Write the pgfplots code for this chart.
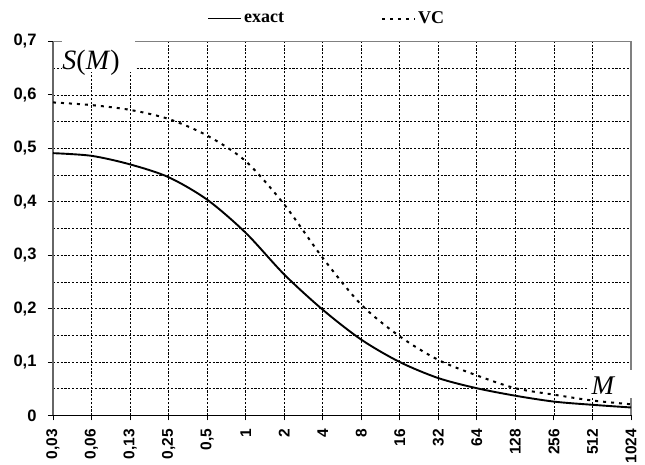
\documentclass[border=0pt]{standalone}
\usepackage{fontspec}
\setmainfont{Liberation Serif}
\newfontfamily\arialf{Liberation Sans}
\usepackage{pgfplots}
\pgfplotsset{compat=1.18}
\begin{document}
\begin{tikzpicture}
\begin{axis}[
  at={(0,0)}, anchor=south west,
  scale only axis, width=578pt, height=374pt,
  xmin=0, xmax=15, ymin=0, ymax=0.7,
  axis x line*=bottom, axis y line*=left,
  x axis line style={black, line width=1.1pt, -},
  y axis line style={gray!80!black, line width=1.2pt, -},
  xtick={0,1,2,3,4,5,6,7,8,9,10,11,12,13,14,15},
  xticklabels={{0,03},{0,06},{0,13},{0,25},{0,5},1,2,4,8,16,32,64,128,256,512,1024},
  ytick={0,0.1,0.2,0.3,0.4,0.5,0.6,0.7},
  minor ytick={0.05,0.15,0.25,0.35,0.45,0.55,0.65},
  grid=both,
  major grid style={black, line width=0.8pt, dash pattern=on 2.2pt off 1.6pt},
  minor grid style={black, line width=0.8pt, dash pattern=on 2.2pt off 1.6pt},
  tick style={black, line width=0.9pt},
  major tick length=5pt, minor tick length=0pt,
  tick align=outside,
  yticklabel style={/pgf/number format/.cd, use comma, fixed, precision=1, assume math mode=true,
    /tikz/font=\arialf\bfseries\fontsize{16.5}{18}\selectfont},
  xticklabel style={rotate=90, anchor=east, font=\arialf\bfseries\fontsize{15.5}{17}\selectfont},
  xticklabel shift=5pt,
  yticklabel shift=8pt,
  clip=false,
  legend style={at={(rel axis cs:0.2664,1.0614)}, anchor=west, draw=none, fill=none, inner sep=0pt,
    font=\bfseries\fontsize{18}{20}\selectfont,
    /tikz/every even column/.append style={column sep=95pt}},
  legend columns=2,
  legend image code/.code={\draw[#1] (0pt,0pt) -- (33pt,0pt);},
]
\draw[gray, line width=1.1pt] (rel axis cs:0,1) -- (rel axis cs:1,1) -- (rel axis cs:1,0);
\fill[white] (axis cs:0.234,0.643) rectangle (axis cs:2.13,0.715);
\fill[white] (axis cs:13.9,0.0328) rectangle (axis cs:15.1,0.0856);
\node[anchor=base west, inner sep=0pt, font=\fontsize{28}{30}\selectfont] at (axis cs:0.24,0.648) {\textit{S}(\textit{M})};
\node[anchor=base west, inner sep=0pt, font=\itshape\fontsize{27}{29}\selectfont] at (axis cs:13.97,0.0385) {M};
\addplot[black, line width=1.9pt, smooth] coordinates {
(0,0.491)(1,0.486)(2,0.470)(3,0.446)(4,0.404)(5,0.342)(6,0.264)(7,0.198)(8,0.142)(9,0.100)(10,0.070)(11,0.051)(12,0.037)(13,0.026)(14,0.020)(15,0.015)};
\addlegendentry{exact}
\addplot[black, line width=2pt, dash pattern=on 3pt off 5pt, smooth] coordinates {
(0,0.586)(1,0.581)(2,0.572)(3,0.555)(4,0.524)(5,0.476)(6,0.395)(7,0.295)(8,0.2075)(9,0.148)(10,0.104)(11,0.075)(12,0.051)(13,0.039)(14,0.028)(15,0.021)};
\addlegendentry{VC}
\end{axis}
\pgfresetboundingbox
\path (-53pt,-49.5pt) rectangle (592pt,415.5pt);
\end{tikzpicture}
\end{document}
